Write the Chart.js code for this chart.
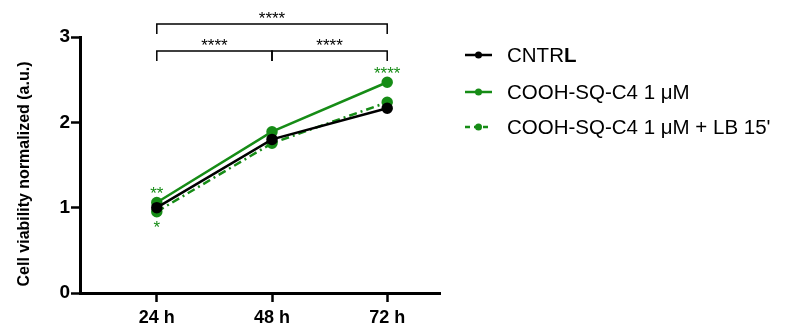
<!DOCTYPE html>
<html><head><meta charset="utf-8">
<script src="https://cdn.jsdelivr.net/npm/chart.js@4.4.0/dist/chart.umd.min.js"></script>
<style>
html,body{margin:0;padding:0;background:#fff;}
#wrap{position:relative;width:788px;height:331px;}
#legend{position:absolute;left:465px;top:0;font-family:"Liberation Sans",Arial,sans-serif;font-size:20.5px;color:#000;}
.item{position:absolute;left:0;white-space:nowrap;height:24px;line-height:24px;}
.item svg{position:absolute;left:0;top:4px;}
.item span{position:absolute;left:42px;top:0;}
</style></head>
<body><div id="wrap"><canvas id="c" width="788" height="331"></canvas><div id="legend"></div></div>
<script>
const timepoints = [24, 48, 72];
const tickLabels = ['24 h', '48 h', '72 h'];
const seriesNames = ['CNTRL', 'COOH-SQ-C4 1 μM', "COOH-SQ-C4 1 μM + LB 15'"];
const cntrl = [1.00, 1.80, 2.165];
const cooh = [1.06, 1.89, 2.47];
const coohLB = [0.953, 1.755, 2.235];
const yTicks = [0, 1, 2, 3];
const yTitle = 'Cell viability normalized (a.u.)';
// significance labels
const sigAbove = ['**', '', '****'];   // COOH vs CNTRL (above solid green)
const sigBelow = ['*', '', ''];        // COOH+LB vs CNTRL (below dashed)
const brackets = [
  {from: 24, to: 72, label: '****', row: 0},
  {from: 24, to: 48, label: '****', row: 1},
  {from: 48, to: 72, label: '****', row: 1}
];

const GREEN = '#168c16';
const FONT = '"Liberation Sans", Arial, sans-serif';

const annot = {
  id: 'annot',
  afterDraw(chart) {
    const ctx = chart.ctx, x = chart.scales.x, y = chart.scales.y;
    ctx.save();
    // y title
    ctx.save();
    ctx.translate(25, 174);
    ctx.rotate(-Math.PI / 2);
    ctx.font = 'bold 16px ' + FONT;
    ctx.fillStyle = '#000';
    ctx.textAlign = 'center';
    ctx.textBaseline = 'middle';
    ctx.fillText(yTitle, 0, 0);
    ctx.restore();

    ctx.font = '17px ' + FONT;
    ctx.textAlign = 'center';
    ctx.textBaseline = 'middle';
    const rowY = [24, 51];
    ctx.strokeStyle = '#000'; ctx.lineWidth = 1.5;
    brackets.forEach(b => {
      const x1 = x.getPixelForValue(b.from), x2 = x.getPixelForValue(b.to);
      const yy = rowY[b.row];
      ctx.beginPath();
      ctx.moveTo(x1, yy + 10); ctx.lineTo(x1, yy); ctx.lineTo(x2, yy); ctx.lineTo(x2, yy + 10);
      ctx.stroke();
      ctx.fillStyle = '#000';
      ctx.fillText(b.label, (x1 + x2) / 2, yy - 5);
    });
    ctx.fillStyle = GREEN;
    timepoints.forEach((t, i) => {
      const px = x.getPixelForValue(t);
      if (sigAbove[i]) ctx.fillText(sigAbove[i], px, y.getPixelForValue(cooh[i]) - 8);
      if (sigBelow[i]) ctx.fillText(sigBelow[i], px, y.getPixelForValue(coohLB[i]) + 17);
    });
    ctx.restore();
  }
};

const chart = new Chart(document.getElementById('c'), {
  type: 'line',
  data: {
    datasets: [
      {label: seriesNames[0], data: timepoints.map((t, i) => ({x: t, y: cntrl[i]})),
       borderColor: '#000', backgroundColor: '#000', borderWidth: 2.5, pointRadius: 4.5},
      {label: seriesNames[1], data: timepoints.map((t, i) => ({x: t, y: cooh[i]})),
       borderColor: GREEN, backgroundColor: GREEN, borderWidth: 2.5, pointRadius: 4.5},
      {label: seriesNames[2], data: timepoints.map((t, i) => ({x: t, y: coohLB[i]})),
       borderColor: GREEN, backgroundColor: GREEN, borderWidth: 2.5, pointRadius: 4.5,
       borderDash: [8, 4, 2, 4]}
    ]
  },
  options: {
    responsive: false, animation: false, events: [],
    layout: {padding: {left: 0, top: 37, right: 348, bottom: 0}},
    plugins: {legend: {display: false}, tooltip: {enabled: false}},
    scales: {
      x: {
        type: 'linear', min: 8, max: 83,
        afterBuildTicks: a => { a.ticks = timepoints.map(v => ({value: v})); },
        afterFit: s => { s.height = 38; },
        border: {display: true, color: '#000', width: 3},
        grid: {display: true, drawOnChartArea: false, tickLength: 9, tickWidth: 2.5, tickColor: '#000'},
        ticks: {color: '#000', padding: 5, font: {family: FONT, size: 18, weight: 'bold'},
                callback: (v) => tickLabels[timepoints.indexOf(v)]}
      },
      y: {
        min: 0, max: 3,
        afterBuildTicks: a => { a.ticks = yTicks.map(v => ({value: v})); },
        afterFit: s => { s.width = 80; },
        border: {display: true, color: '#000', width: 3},
        grid: {display: true, drawOnChartArea: false, tickLength: 9, tickWidth: 2.5, tickColor: '#000'},
        ticks: {color: '#000', padding: 1, font: {family: FONT, size: 19, weight: 'bold'}}
      }
    }
  },
  plugins: [annot]
});

const leg = document.getElementById('legend');
const rowsY = [43, 80, 115];
chart.data.datasets.forEach((ds, i) => {
  const d = document.createElement('div');
  d.className = 'item';
  d.style.top = rowsY[i] + 'px';
  const dash = ds.borderDash ? 'stroke-dasharray="5,4"' : '';
  d.innerHTML = `<svg width="28" height="16"><line x1="0" y1="8" x2="27" y2="8" stroke="${ds.borderColor}" stroke-width="2.5" ${dash}/><circle cx="13.5" cy="8" r="3.5" fill="${ds.borderColor}"/></svg>`;
  const s = document.createElement('span');
  if (i === 0) { s.innerHTML = 'CNTR<b>L</b>'; } else { s.textContent = ds.label; }
  d.appendChild(s);
  leg.appendChild(d);
});
</script></body></html>
